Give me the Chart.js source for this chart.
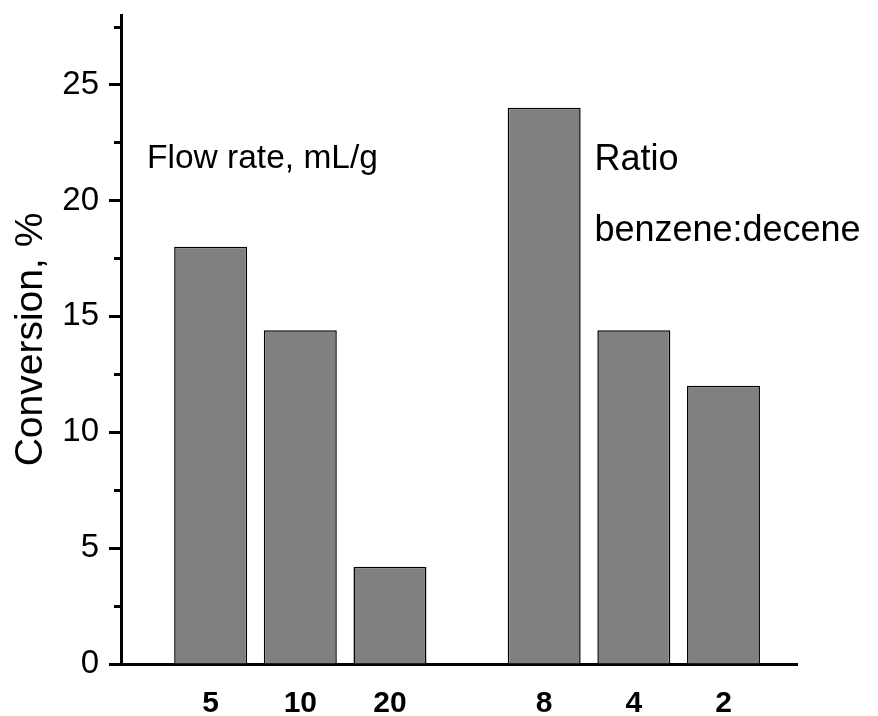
<!DOCTYPE html>
<html>
<head>
<meta charset="utf-8">
<script src="https://cdn.jsdelivr.net/npm/chart.js@4/dist/chart.umd.min.js"></script>
<style>
  html, body { margin: 0; padding: 0; background: #ffffff; }
  #wrap { width: 878px; height: 716px; }
</style>
</head>
<body>
<div id="wrap"><canvas id="c" width="878" height="716"></canvas></div>
<script>
// Conversion (%) for each flow rate (mL/g)
const flowRates = ['5', '10', '20'];
const flowConversion = [18.0, 14.4, 4.2];

// Conversion (%) for each benzene:decene ratio
const ratios = ['8', '4', '2'];
const ratioConversion = [24.0, 14.4, 12.0];

// Y axis
const yMajorTicks = [0, 5, 10, 15, 20, 25];
const yMax = 28;

// Group captions
const flowCaption = 'Flow rate, mL/g';
const ratioCaption = ['Ratio', 'benzene:decene'];

// Layout of the two bar groups on a linear x scale (one unit per bar slot)
const GROUP_GAP = 1.72;     // distance between the last bar of group 1 and first of group 2
const X_MAX = 7.54;

const flowPos = flowRates.map((_, i) => 1 + i);
const ratioPos = ratios.map((_, i) => flowPos[flowPos.length - 1] + GROUP_GAP + i);
const allPos = flowPos.concat(ratioPos);
const allLabels = flowRates.concat(ratios);
const allValues = flowConversion.concat(ratioConversion);

const FONT = "'Liberation Sans', Arial, Helvetica, sans-serif";

// Minor y ticks halfway between the major ones
const yMinorTicks = [];
for (let i = 0; i < yMajorTicks.length; i++) {
  const next = i + 1 < yMajorTicks.length ? yMajorTicks[i + 1] : yMajorTicks[i] + (yMajorTicks[1] - yMajorTicks[0]);
  const mid = (yMajorTicks[i] + next) / 2;
  if (mid <= yMax) yMinorTicks.push(mid);
}

const extrasPlugin = {
  id: 'extras',
  afterDraw(chart) {
    const { ctx, scales } = chart;
    const x = scales.x, y = scales.y;
    ctx.save();
    // minor ticks on the y axis
    ctx.strokeStyle = '#000';
    ctx.lineWidth = 3;
    const xr = chart.chartArea.left;
    yMinorTicks.forEach(v => {
      const py = Math.round(y.getPixelForValue(v)) + 0.5;
      ctx.beginPath();
      ctx.moveTo(xr - 7, py);
      ctx.lineTo(xr, py);
      ctx.stroke();
    });
    // group captions
    ctx.fillStyle = '#000';
    ctx.textAlign = 'left';
    ctx.textBaseline = 'alphabetic';
    ctx.font = '33.5px ' + FONT;
    ctx.fillText(flowCaption, x.getPixelForValue(0.29), y.getPixelForValue(21.4));
    ctx.font = '36px ' + FONT;
    ctx.fillText(ratioCaption[0], x.getPixelForValue(5.28), y.getPixelForValue(21.3));
    ctx.fillText(ratioCaption[1], x.getPixelForValue(5.28), y.getPixelForValue(18.25));
    ctx.restore();
  }
};

new Chart(document.getElementById('c'), {
  type: 'bar',
  data: {
    datasets: [{
      data: allPos.map((p, i) => ({ x: p, y: allValues[i] })),
      backgroundColor: '#808080',
      borderColor: '#000000',
      borderWidth: 1.5,
      borderSkipped: 'bottom',
      categoryPercentage: 1.0,
      barPercentage: 0.814
    }]
  },
  options: {
    responsive: false,
    animation: false,
    events: [],
    layout: { padding: { top: 15, right: 81, bottom: 0, left: 0 } },
    plugins: { legend: { display: false }, tooltip: { enabled: false } },
    scales: {
      x: {
        type: 'linear',
        offset: false,
        min: 0,
        max: X_MAX,
        afterBuildTicks(scale) {
          scale.ticks = allPos.map(v => ({ value: v }));
        },
        afterFit(scale) {
          scale.height = 52;
          scale.paddingLeft = 0;
          scale.paddingRight = 0;
        },
        grid: { offset: false, drawOnChartArea: false, drawTicks: false },
        border: { display: true, color: '#000', width: 3 },
        ticks: {
          autoSkip: false,
          maxRotation: 0,
          padding: 22,
          color: '#000',
          font: { family: FONT, size: 30, weight: 'bold' },
          callback(value) {
            const i = allPos.findIndex(p => Math.abs(p - value) < 1e-6);
            return i >= 0 ? allLabels[i] : '';
          }
        }
      },
      y: {
        min: 0,
        max: yMax,
        afterBuildTicks(scale) {
          scale.ticks = yMajorTicks.map(v => ({ value: v }));
        },
        afterFit(scale) {
          scale.width = 121;
          scale.paddingTop = 0;
          scale.paddingBottom = 0;
        },
        grid: { drawOnChartArea: false, drawTicks: true, tickLength: 12, tickWidth: 3, tickColor: '#000' },
        border: { display: true, color: '#000', width: 3 },
        ticks: {
          padding: 10,
          color: '#000',
          font: { family: FONT, size: 33 }
        },
        title: {
          display: true,
          text: 'Conversion, %',
          color: '#000',
          font: { family: FONT, size: 39 },
          padding: { top: 8, bottom: 0 }
        }
      }
    }
  },
  plugins: [extrasPlugin]
});
</script>
</body>
</html>
